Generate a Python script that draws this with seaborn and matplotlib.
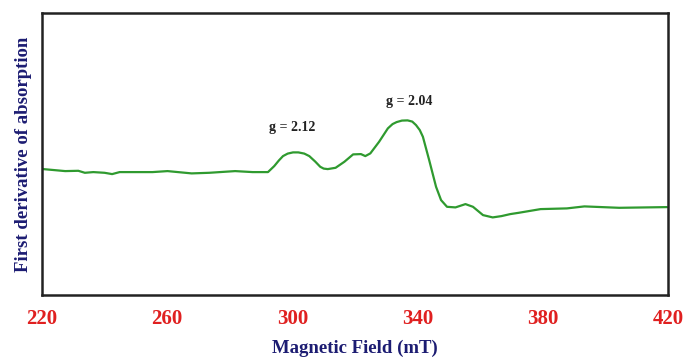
import matplotlib
matplotlib.use("Agg")
import matplotlib.pyplot as plt
import seaborn as sns
import pandas as pd

field_mT = [220.4, 227.4, 231.6, 233.7, 236.4, 240.0, 242.4, 244.8, 255.3, 260.1,
            267.8, 273.4, 281.7, 287.3, 292.2, 294.2, 295.7, 297.0, 298.5, 300.2, 301.9, 303.8, 305.4, 307.3, 308.9,
            310.0, 311.3, 313.8, 316.6, 319.4, 321.9, 323.3, 324.9, 327.7, 330.5, 332.0, 333.3,
            335.0, 336.8, 338.3, 339.5, 340.7, 341.7, 343.7, 345.9, 347.5, 349.4, 352.1, 355.3, 357.7,
            360.9, 364.0, 366.8, 369.6, 372.3, 379.3, 387.7, 393.3, 404.4, 419.7]
signal = [126, 124, 124.3, 122.3, 123, 122.3, 121, 123, 123, 124,
          121.7, 122.3, 124, 123, 123, 129, 134.7, 139, 141.5, 142.7, 142.7, 141.5, 139, 133.5, 128.3,
          126.5, 126, 127.3, 133.3, 140.7, 141, 139, 141.7, 153.3, 166.7, 171, 173,
          174.5, 174.7, 173.5, 170, 165, 158.3, 135, 108.3, 95, 88.3, 87.7, 91, 88.3,
          80, 77.7, 79, 81, 82.3, 86, 86.7, 88.7, 87.3, 88]

major_ticks = [220, 260, 300, 340, 380, 420]
minor_ticks = [240, 280, 320, 360, 400]

annot_text = ["g = 2.12", "g = 2.04"]
annot_x = [300, 337.3]
annot_y = [168, 194]

sns.set_style("white")
plt.rcParams['font.family'] = ['Liberation Serif', 'DejaVu Serif']

df = pd.DataFrame({"field": field_mT, "signal": signal})

fig = plt.figure(figsize=(6.83, 3.63), dpi=100)
ax = fig.add_axes([0.0615, 0.187, 0.9165, 0.777])
sns.lineplot(data=df, x="field", y="signal", ax=ax, color="#2f9a2f", linewidth=1.6)

ax.set_xlim(220, 420)
ax.set_ylim(0, 282)
ax.set_xticks(major_ticks)
ax.set_xticks(minor_ticks, minor=True)
ax.tick_params(axis="x", which="major", direction="in", length=8.5, width=1.4,
               colors="black", labelcolor="#e02020", labelsize=15, pad=10)
ax.tick_params(axis="x", which="minor", direction="in", length=5.5, width=1.4,
               colors="black")
ax.set_yticks([])
for lbl in ax.get_xticklabels():
    lbl.set_fontweight("bold")
for s in ax.spines.values():
    s.set_visible(True)
    s.set_color("#222222")
    s.set_linewidth(1.8)

ax.set_xlabel("Magnetic Field (mT)", fontsize=13.5, fontweight="bold",
              color="#1c1c72", labelpad=8)
ax.set_ylabel("First derivative of absorption", fontsize=13.5, fontweight="bold",
              color="#1c1c72", labelpad=7)

for t, x, y in zip(annot_text, annot_x, annot_y):
    ax.text(x, y, t, ha="center", va="center", fontsize=10, fontweight="bold",
            color="#222222")

fig.savefig("out.png", dpi=100)
